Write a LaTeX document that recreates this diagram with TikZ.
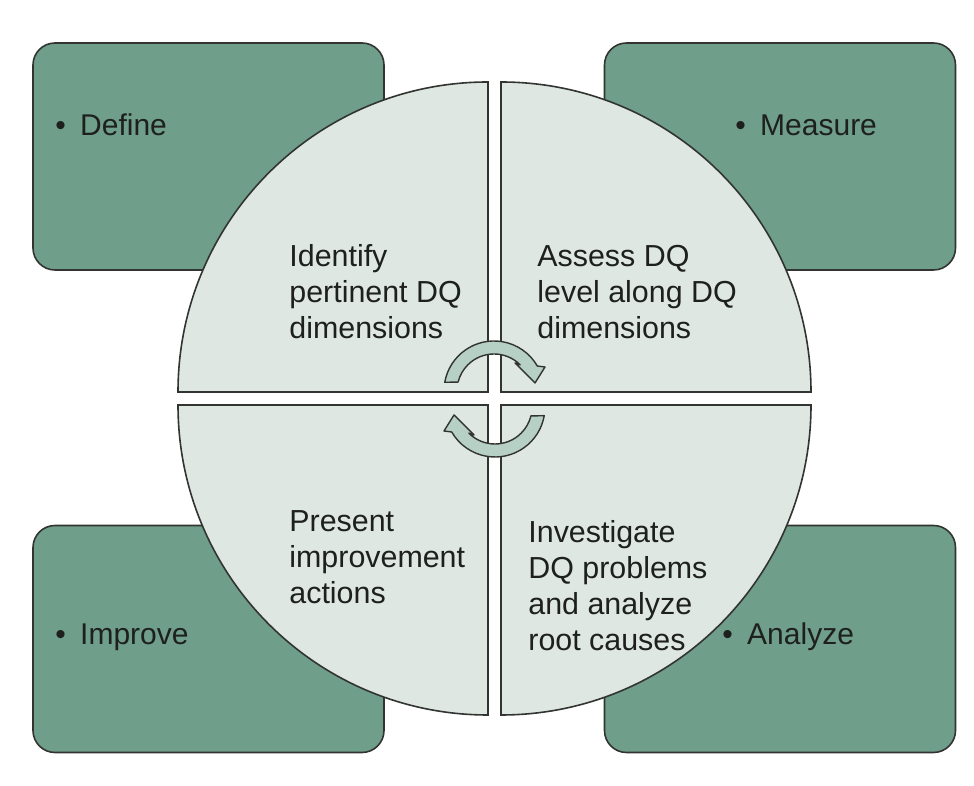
\documentclass[tikz,border=0pt]{standalone}
\usepackage{fontspec}
\setmainfont{Liberation Sans}
\usepackage{tikz}
\usetikzlibrary{positioning,calc}
\definecolor{dqdark}{RGB}{111,158,138}
\definecolor{dqpale}{RGB}{222,231,226}
\definecolor{dqarrow}{RGB}{182,208,197}
\definecolor{dqline}{RGB}{50,52,50}
\definecolor{dqtext}{RGB}{30,32,30}
\newcommand{\turnarrow}[2]{%
  \begin{scope}[shift={#1}, rotate=#2]
    \draw[carr] (170:25pt) arc[start angle=170, end angle=30, radius=25pt]
      -- (25.5pt,12pt) -- (20.5pt,4pt) -- (10.5pt,14pt) -- (45:18.5pt)
      arc[start angle=45, end angle=166, radius=18.5pt] -- cycle;
  \end{scope}}
\tikzset{
  phase/.style={draw=dqline, fill=dqdark, line width=0.8pt, rounded corners=11pt,
    minimum width=175.5pt, minimum height=113.5pt, inner sep=0pt},
  quad/.style={draw=dqline, fill=dqpale, line width=0.8pt},
  carr/.style={draw=dqline, fill=dqarrow, line width=0.7pt, line join=round},
  plab/.style={anchor=west, inner sep=0pt, text=dqtext, font=\fontsize{15pt}{18pt}\selectfont},
  qlab/.style={anchor=west, inner sep=0pt, align=left, text=dqtext,
    font=\fontsize{15.2pt}{18pt}\selectfont},
}

\begin{document}
\begin{tikzpicture}[x=0.5pt, y=0.5pt]
\useasboundingbox (0,0) rectangle (974,786);
% phase boxes
\node[phase] (definebox) at (208.5,629.5) {};
\node[phase] (measurebox) at (780,629.5) {};
\node[phase] (improvebox) at (208.5,147) {};
\node[phase] (analyzebox) at (780,147) {};
\node[plab] (define) at (55,661) {• \hspace{3pt}Define};
\node[plab] (measure) at (735,661) {• \hspace{3pt}Measure};
\node[plab] (improve) at (55,149) {• \hspace{3pt}Improve};
\node[plab] (analyze) at (722,149) {• \hspace{3pt}Analyze};
% the four quarters
\draw[quad] (488,394) -- (178,394) arc[start angle=180, end angle=90, radius=155pt] -- cycle;
\draw[quad] (501,394) -- (501,704) arc[start angle=90, end angle=0, radius=155pt] -- cycle;
\draw[quad] (488,381) -- (488,71) arc[start angle=270, end angle=180, radius=155pt] -- cycle;
\draw[quad] (501,381) -- (811,381) arc[start angle=0, end angle=-90, radius=155pt] -- cycle;
\node[qlab] (identify) at (289,494) {Identify\\pertinent DQ\\dimensions};
\node[qlab] (assess) at (537,494) {Assess DQ\\level along DQ\\dimensions};
\node[qlab] (present) at (289,229) {Present\\improvement\\actions};
\node[qlab] (investigate) at (528,200) {Investigate\\DQ problems\\and analyze\\root causes};
% cycle arrows
\turnarrow{(494,395)}{0}
\turnarrow{(495,379)}{180}
\end{tikzpicture}
\end{document}
